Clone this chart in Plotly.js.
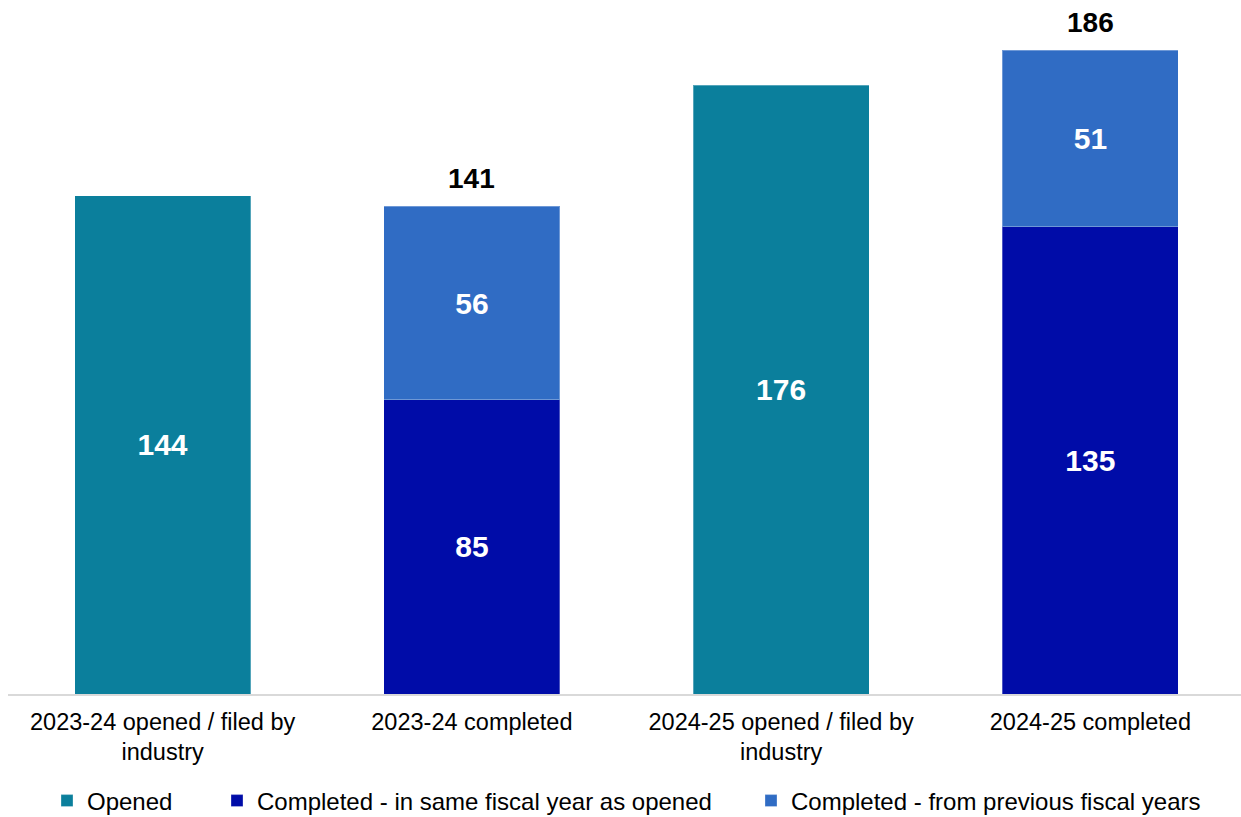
<!DOCTYPE html>
<html>
<head>
<meta charset="utf-8">
<script src="https://cdn.plot.ly/plotly-3.0.1.min.js"></script>
<style>html,body{margin:0;padding:0;background:#fff;}#chart{width:1241px;height:817px;}</style>
</head>
<body>
<div id="chart"></div>
<script>
const categories = [
  "2023-24 opened / filed by<br>industry",
  "2023-24 completed",
  "2024-25 opened / filed by<br>industry",
  "2024-25 completed"
];
const opened = [144, null, 176, null];
const completedSameYear = [null, 85, null, 135];
const completedPrevYears = [null, 56, null, 51];

const seriesNames = ["Opened", "Completed - in same fiscal year as opened", "Completed - from previous fiscal years"];
const colors = ["#0B7F9C", "#000CA8", "#306CC4"];

const font = "Liberation Sans, Arial, sans-serif";
const outline = {width: 1, color: "rgba(255,255,255,0.3)"};

function barTrace(vals, i, legendId) {
  return {
    type: "bar",
    x: categories,
    y: vals,
    name: seriesNames[i],
    legend: legendId,
    marker: {color: colors[i], line: outline},
    text: vals.map(v => v == null ? "" : String(v)),
    textposition: "inside",
    insidetextanchor: "middle",
    textangle: 0,
    textfont: {family: font, size: 30, color: "#FFFFFF", weight: "bold"},
    hoverinfo: "skip"
  };
}

const data = [
  barTrace(opened, 0, "legend"),
  barTrace(completedSameYear, 1, "legend2"),
  barTrace(completedPrevYears, 2, "legend3")
];

const totals = categories.map((c, i) =>
  (completedSameYear[i] != null && completedPrevYears[i] != null) ? completedSameYear[i] + completedPrevYears[i] : null);

const annotations = [];
totals.forEach((t, i) => {
  if (t != null) {
    annotations.push({
      x: categories[i], y: t, xref: "x", yref: "y",
      text: "<b>" + t + "</b>", showarrow: false,
      yanchor: "bottom", yshift: 10,
      font: {family: font, size: 28, color: "#000000"}
    });
  }
});

function legendAt(xpx) {
  return {
    orientation: "h",
    xref: "container", yref: "container",
    x: xpx / 1241, xanchor: "left",
    y: 1 - 801 / 817, yanchor: "middle",
    font: {family: font, size: 24, color: "#000000"},
    bgcolor: "rgba(0,0,0,0)",
    itemclick: false, itemdoubleclick: false
  };
}

const layout = {
  width: 1241, height: 817,
  paper_bgcolor: "#FFFFFF", plot_bgcolor: "#FFFFFF",
  margin: {l: 8, r: 0, t: 2, b: 123},
  barmode: "stack",
  bargap: 0.431,
  showlegend: true,
  font: {family: font, size: 24, color: "#000000"},
  xaxis: {
    type: "category",
    range: [-0.5, 3.487],
    showline: true, linecolor: "#D9D9D9", linewidth: 1.5,
    ticks: "", showgrid: false, zeroline: false,
    ticklabelstandoff: 6,
    tickfont: {family: font, size: 23.5, color: "#000000"},
    fixedrange: true
  },
  yaxis: {
    range: [0, 200],
    visible: false, showgrid: false, zeroline: false,
    fixedrange: true
  },
  legend: legendAt(47),
  legend2: legendAt(217),
  legend3: legendAt(751),
  annotations: annotations
};

Plotly.newPlot("chart", data, layout, {displayModeBar: false, staticPlot: true});
</script>
</body>
</html>
